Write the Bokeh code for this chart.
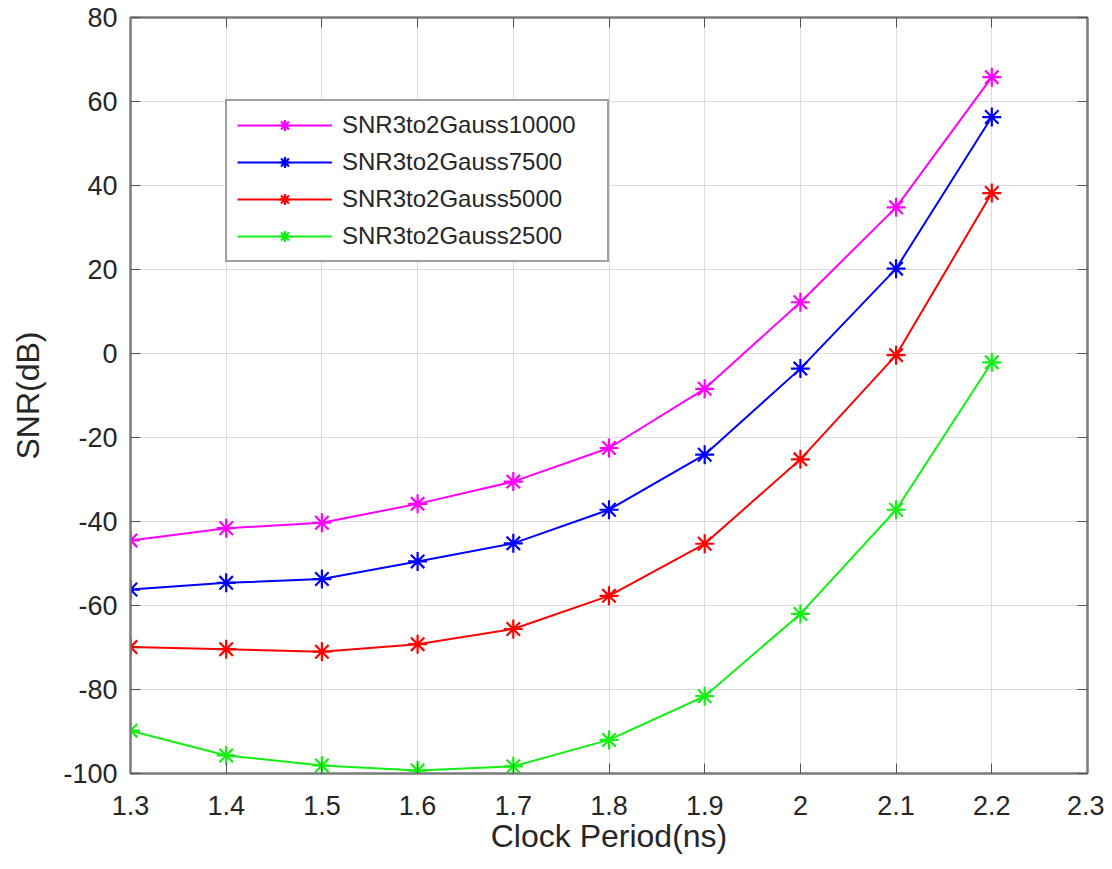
from bokeh.plotting import figure
from bokeh.models import Range1d, LinearAxis, FixedTicker, Legend
from bokeh.embed import file_html
from bokeh.resources import INLINE

# ---- data ----
clock_period = [1.3, 1.4, 1.5, 1.6, 1.7, 1.8, 1.9, 2.0, 2.1, 2.2]
snr_10000 = [-44.5, -41.6, -40.3, -35.8, -30.5, -22.5, -8.4, 12.2, 34.8, 65.8]
snr_7500 = [-56.2, -54.6, -53.7, -49.5, -45.2, -37.2, -24.1, -3.6, 20.2, 56.3]
snr_5000 = [-69.9, -70.4, -71.0, -69.2, -65.6, -57.7, -45.3, -25.2, -0.4, 38.2]
snr_2500 = [-89.8, -95.7, -98.1, -99.3, -98.3, -92.0, -81.6, -62.0, -37.2, -2.1]

series_names = ["SNR3to2Gauss10000", "SNR3to2Gauss7500", "SNR3to2Gauss5000", "SNR3to2Gauss2500"]
series_values = [snr_10000, snr_7500, snr_5000, snr_2500]
series_colors = ["#ff00ff", "#0000ff", "#ff0000", "#11f011"]

x_ticks = [1.3, 1.4, 1.5, 1.6, 1.7, 1.8, 1.9, 2.0, 2.1, 2.2, 2.3]
x_tick_labels = ["1.3", "1.4", "1.5", "1.6", "1.7", "1.8", "1.9", "2", "2.1", "2.2", "2.3"]
y_ticks = [-100, -80, -60, -40, -20, 0, 20, 40, 60, 80]
y_tick_labels = ["-100", "-80", "-60", "-40", "-20", "0", "20", "40", "60", "80"]

FONT = "Liberation Sans"
TXT = "#262626"
AXC = "#7a7a7a"

p = figure(width=1104, height=861, output_backend="svg", toolbar_location=None,
           x_range=Range1d(1.3, 2.3), y_range=Range1d(-100, 80),
           min_border_left=130, min_border_right=17, min_border_top=17, min_border_bottom=88,
           x_axis_label="Clock Period(ns)", y_axis_label="SNR(dB)")

p.outline_line_color = AXC
p.outline_line_width = 2
p.background_fill_color = "white"
p.border_fill_color = "white"

for ax in (p.xaxis[0], p.yaxis[0]):
    ax.axis_line_color = AXC
    ax.axis_line_width = 2
    ax.major_tick_line_color = "#555555"
    ax.major_tick_in = 10
    ax.major_tick_out = 0
    ax.minor_tick_line_color = None
    ax.major_label_text_font = FONT
    ax.major_label_text_font_size = "27px"
    ax.major_label_text_color = TXT
    ax.axis_label_text_font = FONT
    ax.axis_label_text_font_size = "32px"
    ax.axis_label_text_font_style = "normal"
    ax.axis_label_text_color = TXT

p.xaxis[0].ticker = FixedTicker(ticks=x_ticks)
p.xaxis[0].major_label_overrides = {t: l for t, l in zip(x_ticks, x_tick_labels)}
p.xaxis[0].major_label_standoff = 22
p.xaxis[0].axis_label_standoff = 0
p.yaxis[0].ticker = FixedTicker(ticks=y_ticks)
p.yaxis[0].major_label_overrides = {t: l for t, l in zip(y_ticks, y_tick_labels)}
p.yaxis[0].major_label_standoff = 13
p.yaxis[0].axis_label_standoff = 14

# top / right axes with inward ticks, no labels
top_ax = LinearAxis(ticker=FixedTicker(ticks=x_ticks),
                    major_label_overrides={t: "" for t in x_ticks})
right_ax = LinearAxis(ticker=FixedTicker(ticks=y_ticks),
                      major_label_overrides={t: "" for t in y_ticks})
for ax in (top_ax, right_ax):
    ax.axis_line_color = AXC
    ax.axis_line_width = 2
    ax.major_tick_line_color = "#555555"
    ax.major_tick_in = 10
    ax.major_tick_out = 0
    ax.minor_tick_line_color = None
    ax.major_label_standoff = 0
    ax.major_label_text_font_size = "1px"
p.add_layout(top_ax, "above")
p.add_layout(right_ax, "right")

p.xgrid.ticker = FixedTicker(ticks=x_ticks)
p.ygrid.ticker = FixedTicker(ticks=y_ticks)
p.grid.grid_line_color = "#dcdcdc"
p.grid.grid_line_width = 1

items = []
for name, vals, col in zip(series_names, series_values, series_colors):
    ln = p.line(clock_period, vals, line_color=col, line_width=2)
    sc = p.scatter(clock_period, vals, marker="asterisk", size=19, line_color=col, line_width=2.2)
    items.append((name, [ln, sc]))

legend = Legend(items=items, location=(95, 511))
legend.label_text_font = FONT
legend.label_text_font_size = "24px"
legend.label_text_color = TXT
legend.label_height = 28
legend.glyph_height = 28
legend.glyph_width = 95
legend.label_standoff = 10
legend.label_width = 255
legend.spacing = 9
legend.padding = 10
legend.margin = 0
legend.border_line_color = "#444444"
legend.border_line_width = 2
legend.background_fill_color = "white"
legend.background_fill_alpha = 1
p.add_layout(legend, "center")

open("out.html", "w").write(file_html(p, INLINE))
